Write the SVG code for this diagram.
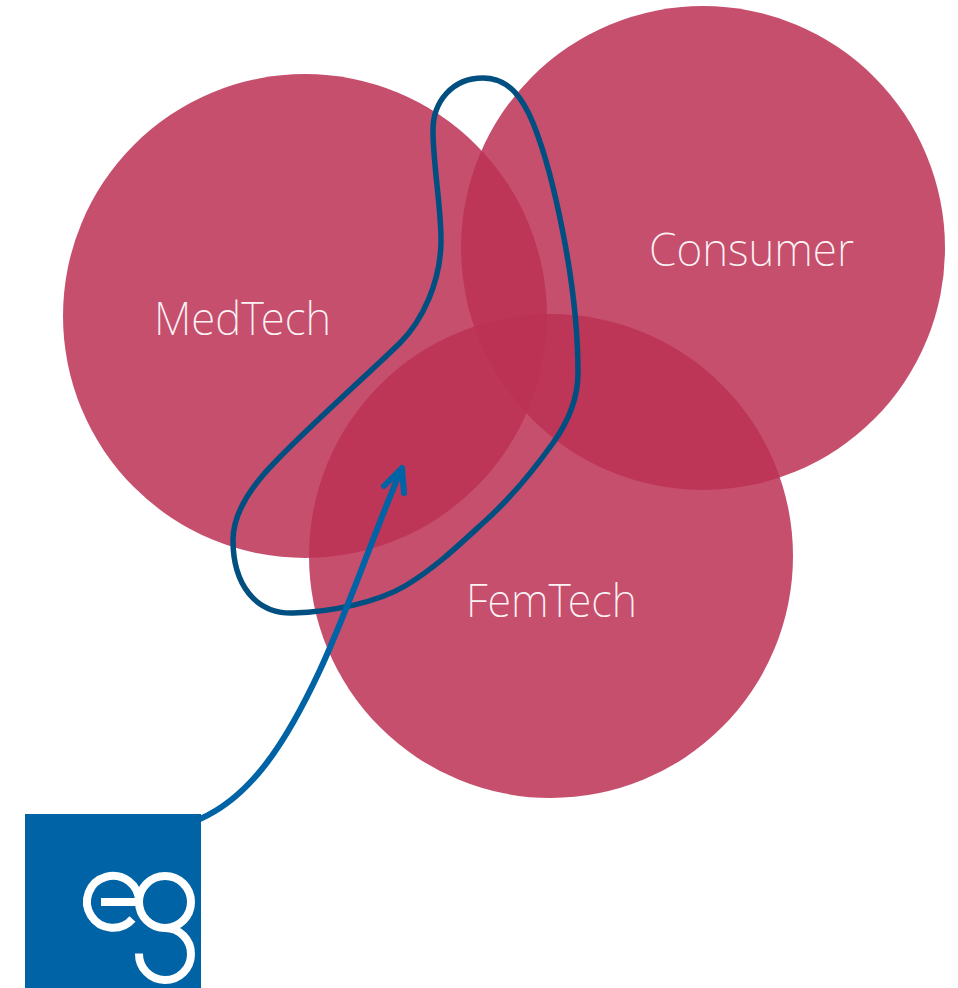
<svg xmlns="http://www.w3.org/2000/svg" width="958" height="988" viewBox="0 0 958 988">
  <style>
    .c { fill: #BC3255; fill-opacity: .86; }
    .t { font-family: "Noto Sans", "Open Sans", sans-serif; font-weight: 200; font-size: 46px; fill: #fdf3f5; text-anchor: start; }
    .l { fill: none; stroke: #fff; stroke-width: 8; }
  </style>
  <rect width="958" height="988" fill="#fff"/>
  <g id="medtech"><circle class="c" cx="305" cy="316" r="242"/></g>
  <g id="consumer"><circle class="c" cx="703" cy="248" r="242"/></g>
  <g id="femtech"><circle class="c" cx="551" cy="556" r="242"/></g>
  <g id="labels">
    <text class="t" x="154" y="335" textLength="177" lengthAdjust="spacingAndGlyphs">MedTech</text>
    <text class="t" x="649" y="266" textLength="205" lengthAdjust="spacingAndGlyphs">Consumer</text>
    <text class="t" x="466" y="617" textLength="171" lengthAdjust="spacingAndGlyphs">FemTech</text>
  </g>
  <g id="connectors" fill="none" stroke-linecap="round" stroke-linejoin="round">
    <path id="loop" stroke="#004F80" stroke-width="5.500" d="M483 78C510 78 523.500 100 533 123C547.400 158 555.800 196 563 233C572 279 578 326 578 373C578 400 568 422 553 443C533 471 509 500 483 523C458 546 435 568 405 586C378 602 332 612 293 613C256 614 233 585 233 540C233 510 255 482 277 460C317 419 365 377 400 343C422 321 441 282 441 240C441 205 433 165 433 130C433 102 452 78 483 78Z"/>
    <path id="arrow" stroke="#0063A5" stroke-width="6" d="M200 819C250 797 285 745 320 670C350 605 375 530 402 468M384 486L402 468L404 493"/>
  </g>
  <g id="eg-logo">
    <rect x="25" y="814" width="176" height="174" fill="#0063A5"/>
    <path class="l" d="M101 902H139"/>
    <path class="l" d="M139 902A26 26 0 1 0 132.500 919"/>
    <circle class="l" cx="165" cy="902" r="26"/>
    <path class="l" d="M165 928A26 26 0 1 1 139 953.500"/>
  </g>
</svg>
